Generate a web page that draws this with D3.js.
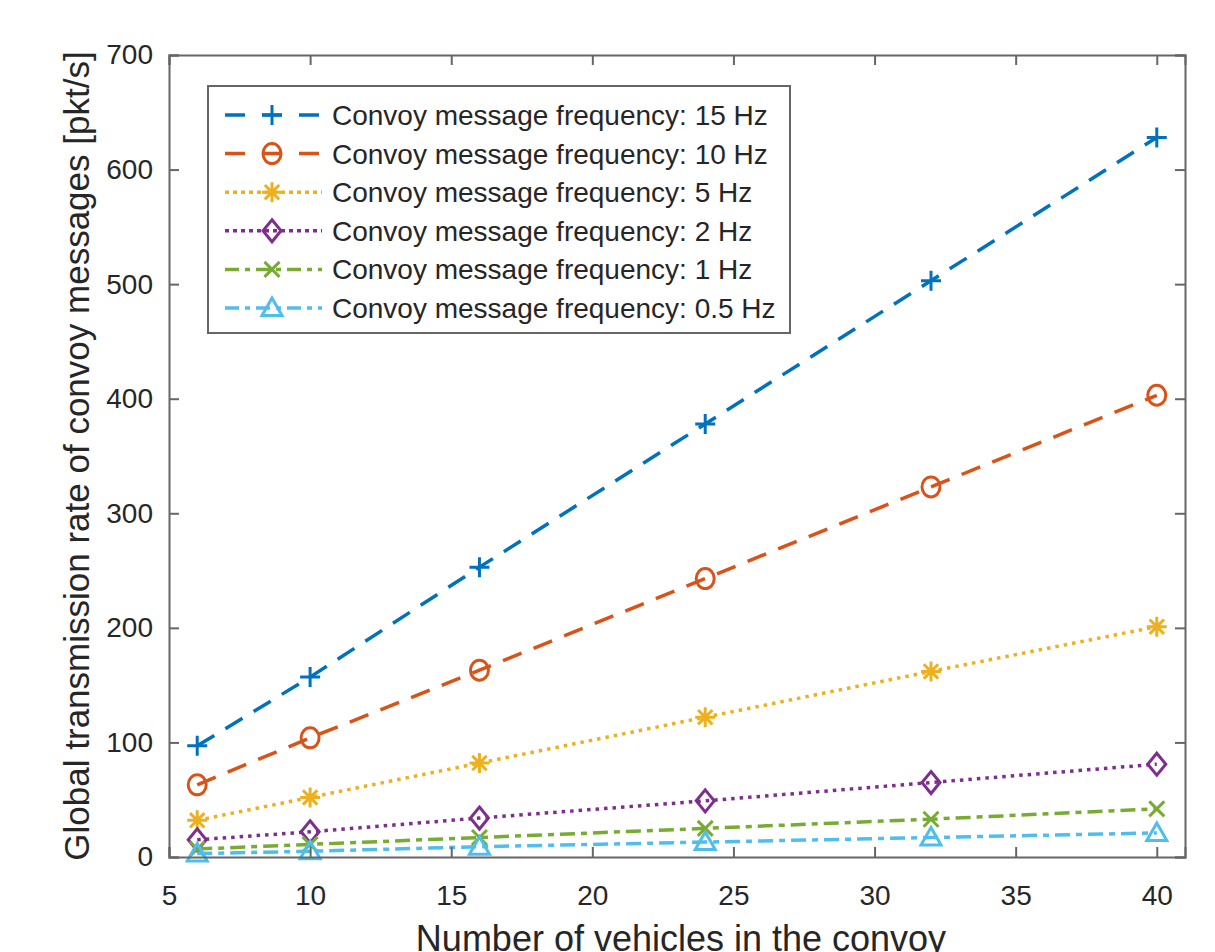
<!DOCTYPE html>
<html>
<head>
<meta charset="utf-8">
<script src="https://cdn.jsdelivr.net/npm/d3@7"></script>
<style>
  body { margin: 0; background: #fff; overflow: hidden; }
  text { font-family: "Liberation Sans", Arial, sans-serif; fill: #262626; }
</style>
</head>
<body>
<svg id="chart" width="1215" height="952"></svg>
<script>
const vehicles = [6, 10, 16, 24, 32, 40];
const labels = [
  "Convoy message frequency: 15 Hz",
  "Convoy message frequency: 10 Hz",
  "Convoy message frequency: 5 Hz",
  "Convoy message frequency: 2 Hz",
  "Convoy message frequency: 1 Hz",
  "Convoy message frequency: 0.5 Hz"
];
const rate15 = [97, 157, 253, 378, 503, 628];
const rate10 = [63, 104, 163, 243, 323, 403];
const rate5 = [32, 52, 82, 122, 162, 201];
const rate2 = [15, 22, 34, 49, 65, 81];
const rate1 = [7, 11, 17, 25, 33, 42];
const rate05 = [3, 5, 9, 13, 17, 21];
const xTicks = [5, 10, 15, 20, 25, 30, 35, 40];
const yTicks = [0, 100, 200, 300, 400, 500, 600, 700];

const colors = ["#0072BD", "#D95319", "#EDB120", "#7E2F8E", "#77AC30", "#4DBEEE"];
const dashes = ["20,13", "20,13", "3.5,5", "3.5,5", "15,6,6,6", "15,6,6,6"];
const legendDashes = ["20,17", "20,17", "4,4", "4,4", "14,6,5,6", "14,6,5,6"];
const markers = ["plus", "circle", "asterisk", "diamond", "cross", "triangle"];
const series = [rate15, rate10, rate5, rate2, rate1, rate05].map((vals, i) => ({
  label: labels[i], color: colors[i], dash: dashes[i], legendDash: legendDashes[i],
  marker: markers[i],
  points: vals.map((v, j) => ({x: vehicles[j], y: v}))
}));

const svg = d3.select("#chart"),
  margin = {top: 55, right: 30, bottom: 95, left: 169},
  width = 1215 - margin.left - margin.right,
  height = 952 - margin.top - margin.bottom,
  g = svg.append("g").attr("transform", `translate(${margin.left},${margin.top})`);

const x = d3.scaleLinear().domain([5, 41]).range([0, width]);
const y = d3.scaleLinear().domain([0, 700]).range([height, 0]);

const axisColor = "#666";

function drawMarker(sel, type, color) {
  const r = 10;
  const p = sel.append("g").attr("fill", "none").attr("stroke", color).attr("stroke-width", 3);
  if (type === "plus") {
    p.append("path").attr("d", `M${-r},0H${r}M0,${-r}V${r}`);
  } else if (type === "circle") {
    p.append("ellipse").attr("rx", r - 1).attr("ry", r);
  } else if (type === "asterisk") {
    const a = r * 0.72;
    p.append("path").attr("d", `M${-r},0H${r}M0,${-r}V${r}M${-a},${-a}L${a},${a}M${-a},${a}L${a},${-a}`);
  } else if (type === "diamond") {
    p.append("path").attr("d", `M0,${-r - 1}L${r - 1},0L0,${r + 1}L${-r + 1},0Z`);
  } else if (type === "cross") {
    const a = r * 0.75;
    p.append("path").attr("d", `M${-a},${-a}L${a},${a}M${-a},${a}L${a},${-a}`);
  } else if (type === "triangle") {
    p.append("path").attr("d", `M0,${-r}L${r},${r * 0.75}L${-r},${r * 0.75}Z`);
  }
}

// lines
const line = d3.line().x(d => x(d.x)).y(d => y(d.y));
series.forEach(s => {
  g.append("path")
    .datum(s.points)
    .attr("fill", "none")
    .attr("stroke", s.color)
    .attr("stroke-width", 3.5)
    .attr("stroke-dasharray", s.dash)
    .attr("d", line);
  s.points.forEach(d => {
    const m = g.append("g").attr("transform", `translate(${x(d.x)},${y(d.y)})`);
    drawMarker(m, s.marker, s.color);
  });
});

// axes (MATLAB style box with inward ticks)
const axBottom = g.append("g")
  .attr("transform", `translate(0,${height})`)
  .call(d3.axisBottom(x).tickValues(xTicks).tickSize(-10).tickPadding(28));
const axTop = g.append("g")
  .call(d3.axisTop(x).tickValues(xTicks).tickSize(-10).tickFormat(""));
const axLeft = g.append("g")
  .call(d3.axisLeft(y).tickValues(yTicks).tickSize(-10).tickPadding(16));
const axRight = g.append("g")
  .attr("transform", `translate(${width},0)`)
  .call(d3.axisRight(y).tickValues(yTicks).tickSize(-10).tickFormat(""));

[axBottom, axTop, axLeft, axRight].forEach(a => {
  a.select(".domain").attr("stroke", axisColor).attr("stroke-width", 2);
  a.selectAll(".tick line").attr("stroke", axisColor).attr("stroke-width", 2);
  a.selectAll(".tick text").attr("font-size", 28).attr("fill", "#333")
    .attr("font-family", "Liberation Sans, Arial, sans-serif");
});

// axis labels
svg.append("text")
  .attr("x", 681)
  .attr("y", 951)
  .attr("text-anchor", "middle")
  .attr("font-size", 36)
  .text("Number of vehicles in the convoy");

svg.append("text")
  .attr("transform", `translate(89,${margin.top + height / 2}) rotate(-90)`)
  .attr("text-anchor", "middle")
  .attr("font-size", 35)
  .text("Global transmission rate of convoy messages [pkt/s]");

// legend
const legend = svg.append("g").attr("transform", "translate(208,86)");
legend.append("rect")
  .attr("width", 582).attr("height", 247)
  .attr("fill", "#fff").attr("stroke", axisColor).attr("stroke-width", 2);
series.forEach((s, i) => {
  const row = legend.append("g").attr("transform", `translate(0,${29 + i * 38.6})`);
  row.append("line")
    .attr("x1", 17).attr("x2", 114).attr("y1", 0).attr("y2", 0)
    .attr("stroke", s.color).attr("stroke-width", 3.5)
    .attr("stroke-dasharray", s.legendDash);
  const m = row.append("g").attr("transform", "translate(64,0)");
  drawMarker(m, s.marker, s.color);
  row.append("text")
    .attr("x", 124).attr("y", 0)
    .attr("dy", "0.36em")
    .attr("font-size", 28)
    .text(s.label);
});
</script>
</body>
</html>
